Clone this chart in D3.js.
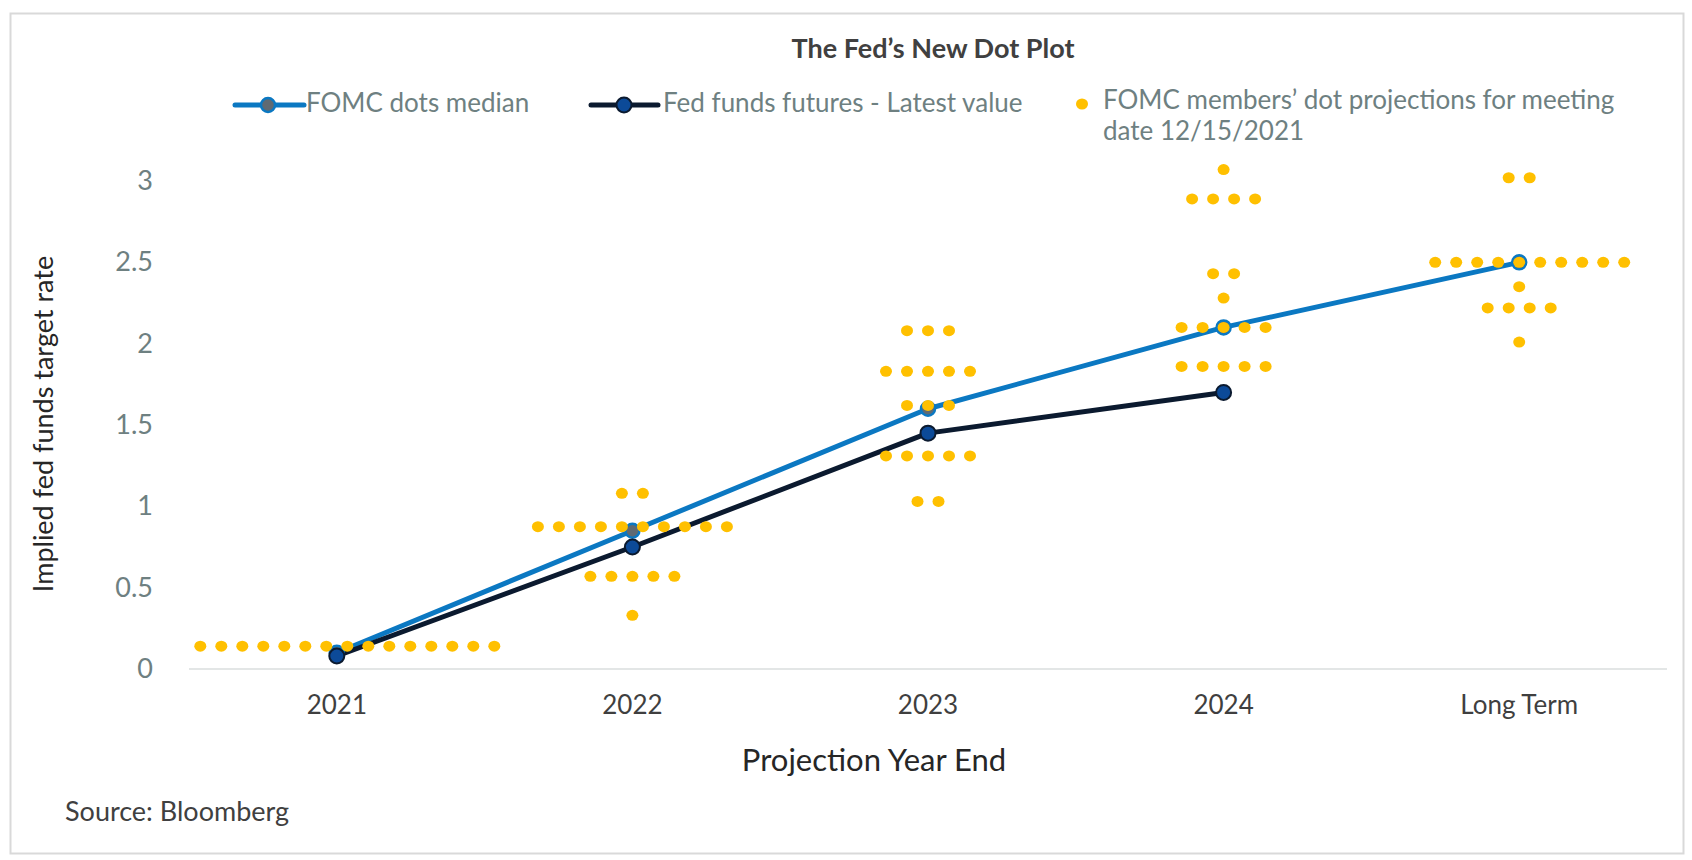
<!DOCTYPE html>
<html>
<head>
<meta charset="utf-8">
<script src="https://cdn.jsdelivr.net/npm/d3@7"></script>
<style>
  body { margin: 0; background: #fff; }
  svg { display: block; font-family: Lato, "Open Sans", sans-serif; }
</style>
</head>
<body>
<svg width="1692" height="860"></svg>
<script>
// categories on the x axis
const categories = ['2021', '2022', '2023', '2024', 'Long Term'];
// FOMC dots median
const medianValues = [0.1, 0.85, 1.6, 2.1, 2.5];
// Fed funds futures - latest value (no long term value)
const futuresValues = [0.08, 0.75, 1.45, 1.7];
// members' dots: [rate, number of dots] per category
const dots2021 = [[0.14, 15]];
const dots2022 = [[1.08, 2], [0.875, 10], [0.57, 5], [0.33, 1]];
const dots2023 = [[2.08, 3], [1.83, 5], [1.62, 3], [1.31, 5], [1.03, 2]];
const dots2024 = [[3.07, 1], [2.89, 4], [2.43, 2], [2.28, 1], [2.1, 5], [1.86, 5]];
const dotsLong = [[3.02, 2], [2.5, 10], [2.35, 1], [2.22, 4], [2.01, 1]];
const yTicks = [0, 0.5, 1, 1.5, 2, 2.5, 3];

const dotRows = [dots2021, dots2022, dots2023, dots2024, dotsLong];

const svg = d3.select('svg');

// 바깥 테두리
svg.append('rect')
  .attr('x', 10.5).attr('y', 13.5)
  .attr('width', 1673).attr('height', 840)
  .attr('fill', '#fff').attr('stroke', '#d9d9d9').attr('stroke-width', 2);

const xScale = d3.scaleBand().domain(categories).range([189, 1667]);
const yScale = d3.scaleLinear().domain([0, 3]).range([669, 181]);
const cx = c => xScale(c) + xScale.bandwidth() / 2;

// title
svg.append('text')
  .attr('x', 933).attr('y', 51)
  .attr('text-anchor', 'middle').attr('dominant-baseline', 'middle')
  .attr('font-size', 27).attr('font-weight', 'bold').attr('fill', '#404040')
  .text('The Fed\u2019s New Dot Plot');

// baseline (x axis line)
svg.append('line')
  .attr('x1', 189).attr('x2', 1667)
  .attr('y1', yScale(0)).attr('y2', yScale(0))
  .attr('stroke', '#e3e6e6').attr('stroke-width', 2);

// y axis
const yAxis = svg.append('g')
  .attr('transform', 'translate(160,0)')
  .call(d3.axisLeft(yScale).tickValues(yTicks).tickSize(0).tickPadding(7).tickFormat(d3.format('')));
yAxis.select('.domain').remove();
yAxis.selectAll('text').attr('font-size', 27).attr('fill', '#6e8081').attr('font-family', 'Lato, sans-serif');

// x axis
const xAxis = svg.append('g')
  .attr('transform', `translate(0,${yScale(0)})`)
  .call(d3.axisBottom(xScale).tickSize(0).tickPadding(27));
xAxis.select('.domain').remove();
xAxis.selectAll('text').attr('font-size', 26).attr('fill', '#3f3f3f').attr('font-family', 'Lato, sans-serif');

// axis titles
svg.append('text')
  .attr('x', 874).attr('y', 771)
  .attr('text-anchor', 'middle')
  .attr('font-size', 31).attr('fill', '#262626')
  .text('Projection Year End');

svg.append('text')
  .attr('transform', 'translate(53,424) rotate(-90)')
  .attr('text-anchor', 'middle')
  .attr('font-size', 27).attr('fill', '#262626')
  .text('Implied fed funds target rate');

svg.append('text')
  .attr('x', 65).attr('y', 821)
  .attr('font-size', 27).attr('fill', '#404040')
  .text('Source: Bloomberg');

// lines
const line = d3.line().x(d => cx(d.c)).y(d => yScale(d.v));
const medianData = medianValues.map((v, i) => ({c: categories[i], v}));
const futuresData = futuresValues.map((v, i) => ({c: categories[i], v}));

svg.append('path').datum(medianData)
  .attr('d', line).attr('fill', 'none')
  .attr('stroke', '#0b78c2').attr('stroke-width', 5).attr('stroke-linejoin', 'round');
svg.append('path').datum(futuresData)
  .attr('d', line).attr('fill', 'none')
  .attr('stroke', '#0b1a2f').attr('stroke-width', 5).attr('stroke-linejoin', 'round');

svg.selectAll('.median-mark').data(medianData).enter()
  .append('circle').classed('median-mark', true)
  .attr('cx', d => cx(d.c)).attr('cy', d => yScale(d.v)).attr('r', 7)
  .attr('fill', '#5f6a73').attr('stroke', '#0b78c2').attr('stroke-width', 2.5);
svg.selectAll('.fut-mark').data(futuresData).enter()
  .append('circle').classed('fut-mark', true)
  .attr('cx', d => cx(d.c)).attr('cy', d => yScale(d.v)).attr('r', 7.5)
  .attr('fill', '#0c4a98').attr('stroke', '#0b1a2f').attr('stroke-width', 2);

// member dots, each row centred on its category
// (2021 and long term rows sit half a slot to the right in the original)
const spacing = 21;
const rowShift = [0.5, 0, 0, 0, 0.5];
const dotData = [];
dotRows.forEach((rows, ci) => {
  rows.forEach(([rate, n]) => {
    const shift = n > 5 ? rowShift[ci] : 0;
    for (let i = 0; i < n; i++) {
      dotData.push({c: categories[ci], v: rate, off: (i - (n - 1) / 2 + shift) * spacing});
    }
  });
});
svg.selectAll('.dot').data(dotData).enter()
  .append('ellipse').classed('dot', true)
  .attr('cx', d => cx(d.c) + d.off).attr('cy', d => yScale(d.v))
  .attr('rx', 6).attr('ry', 5.5)
  .attr('fill', '#ffc000');

// legend
const legend = svg.append('g').attr('font-size', 26).attr('fill', '#6e8081');
legend.append('line').attr('x1', 235).attr('x2', 304).attr('y1', 105).attr('y2', 105)
  .attr('stroke', '#0b78c2').attr('stroke-width', 5).attr('stroke-linecap', 'round');
legend.append('circle').attr('cx', 268).attr('cy', 105).attr('r', 7)
  .attr('fill', '#5f6a73').attr('stroke', '#0b78c2').attr('stroke-width', 2.5);
legend.append('text').attr('x', 306).attr('y', 105).attr('dominant-baseline', 'middle')
  .text('FOMC dots median');

legend.append('line').attr('x1', 591).attr('x2', 658).attr('y1', 105).attr('y2', 105)
  .attr('stroke', '#0b1a2f').attr('stroke-width', 5).attr('stroke-linecap', 'round');
legend.append('circle').attr('cx', 624).attr('cy', 105).attr('r', 7.5)
  .attr('fill', '#0c4a98').attr('stroke', '#0b1a2f').attr('stroke-width', 2);
legend.append('text').attr('x', 663).attr('y', 105).attr('dominant-baseline', 'middle')
  .text('Fed funds futures - Latest value');

legend.append('ellipse').attr('cx', 1082).attr('cy', 104).attr('rx', 6).attr('ry', 5.5)
  .attr('fill', '#ffc000');
legend.append('text').attr('x', 1103).attr('y', 102).attr('dominant-baseline', 'middle')
  .text('FOMC members\u2019 dot projections for meeting');
legend.append('text').attr('x', 1103).attr('y', 133).attr('dominant-baseline', 'middle')
  .text('date 12/15/2021');
</script>
</body>
</html>
